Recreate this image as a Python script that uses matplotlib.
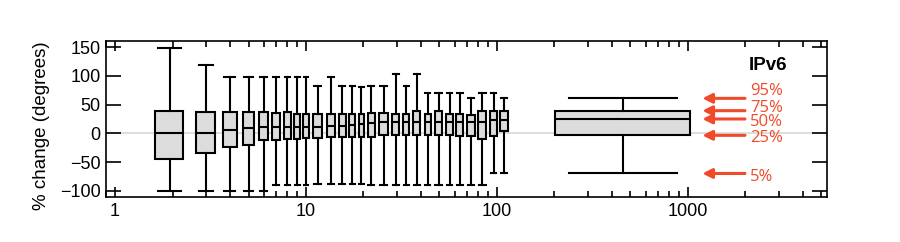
"""
Box plots of % change per bin, with the >100 bin summarised on the right (IPv6)
"""

import numpy as np
import matplotlib.pyplot as plt
from matplotlib.ticker import LogLocator, FixedLocator, NullFormatter

plt.rcParams['font.family'] = ['Liberation Sans', 'DejaVu Sans']

# Bin centres and bin widths (x, log axis)
positions = [1.95, 3, 4, 5, 6, 7, 8, 9, 10, 11.5, 13.5, 15.5, 17.5, 19.5,
             22, 25.5, 29.5, 33.5, 38, 43.5, 49.5, 56.5, 64, 73, 84, 96, 109]
bin_widths = [1, 1, 1, 1, 1, 1, 1, 1, 1, 2, 2, 2, 2, 2,
              3, 4, 4, 4, 5, 5, 7, 7, 8, 10, 12, 12, 16]

# Percentiles per bin
p5 = [-100, -100, -100, -100, -100, -90, -90, -90, -90, -89, -89, -89, -89, -89,
      -90, -90, -90, -90, -90, -90, -90, -90, -90, -90, -90, -70, -70]
q1 = [-45, -34, -24, -20, -11, -12, -10, -10, -8.5, -8.5, -7, -7, -7, -6,
      -6, -3, -3, -3, -3, -2.5, -3, -3.5, -4.5, -4, -9.5, -4, 4]
med = [0, 0, 5, 9, 11, 11, 11, 11, 11, 11, 12, 13, 15, 16,
       18, 19, 19, 19, 20, 19, 20, 19, 19, 19, 20, 23, 23]
q3 = [39, 37, 37, 37, 37, 36, 37, 34, 34, 33, 33, 33, 33, 34,
      35, 35, 34, 34, 39, 34, 39, 34, 34, 32, 39, 39, 39]
p95 = [148, 119, 99, 99, 99, 99, 99, 99, 99, 83, 99, 83, 83, 80,
       83, 83, 103, 83, 103, 71, 71, 71, 71, 61, 71, 71, 61]

# Summary box for everything above 100
big_pos = 455
big_stats = {'whislo': -70, 'q1': -3.5, 'med': 25, 'q3': 39.5, 'whishi': 61}
pct_labels = ['95%', '75%', '50%', '25%', '5%']
pct_keys = ['whishi', 'q3', 'med', 'q1', 'whislo']
label_y = [73, 45, 19, -8, -76]

RED = '#f04a2a'
BOX_GRAY = '#dcdcdc'
XLIM = (0.897, 5350)
YLIM = (-111, 161)

fig = plt.figure(figsize=(9, 2.42), dpi=100)
ax = fig.add_axes([0.1178, 0.186, 0.8011, 0.6446])
ax.set_xscale('log')
ax.set_xlim(*XLIM)
ax.set_ylim(*YLIM)

ax.axhline(0, color='#d8d8d8', lw=1.2, zorder=0)

box_style = dict(
    patch_artist=True,
    showfliers=False,
    manage_ticks=False,
    boxprops=dict(facecolor=BOX_GRAY, edgecolor='black', linewidth=1.5),
    medianprops=dict(color='black', linewidth=1.5),
    whiskerprops=dict(color='black', linewidth=1.5),
    capprops=dict(color='black', linewidth=1.5),
)

stats = []
for i in range(len(positions)):
    stats.append({'whislo': p5[i], 'q1': q1[i], 'med': med[i],
                  'q3': q3[i], 'whishi': p95[i], 'fliers': []})
widths = [0.66 * w for w in bin_widths]
ax.bxp(stats, positions=positions, widths=widths,
       capwidths=[0.8 * w for w in widths], **box_style)

# big box: symmetric in log space, so draw it on a twin axis in log10 units
ax2 = ax.twiny()
ax2.set_xlim(np.log10(XLIM[0]), np.log10(XLIM[1]))
ax2.axis('off')
big = dict(big_stats, fliers=[])
ax2.bxp([big], positions=[np.log10(big_pos)], widths=[0.705],
        capwidths=[0.565], **box_style)

# percentile arrows + labels
for lab, key, ly in zip(pct_labels, pct_keys, label_y):
    v = big_stats[key]
    ax.annotate('', xy=(1190, v), xytext=(1990, v),
                arrowprops=dict(arrowstyle='-|>', color=RED, lw=2.2,
                                mutation_scale=14, shrinkA=0, shrinkB=0))
    ax.text(2120, ly, lab, color=RED, fontsize=12, family=['Open Sans', 'DejaVu Sans'],
            ha='left', va='center')

ax.text(2080, 119, 'IPv6', fontsize=13.5, fontweight='bold', ha='left', va='center')

# ticks
ax.xaxis.set_major_locator(FixedLocator([1, 10, 100, 1000]))
ax.set_xticklabels(['1', '10', '100', '1000'])
ax.xaxis.set_minor_locator(LogLocator(base=10, subs=np.arange(2, 10)))
ax.xaxis.set_minor_formatter(NullFormatter())
ax.set_yticks([-100, -50, 0, 50, 100, 150])

ax.tick_params(axis='both', which='major', direction='in', top=True, right=True,
               labelsize=13, width=1.2, pad=4)
ax.tick_params(axis='x', which='major', length=7.5)
ax.tick_params(axis='y', which='major', length=10.5)
ax.tick_params(axis='x', which='minor', direction='in', top=True, length=4, width=1.2)

for s in ax.spines.values():
    s.set_linewidth(1.2)

ax.set_ylabel('% change (degrees)', fontsize=13.5, va='center')
ax.yaxis.set_label_coords(-0.09, 0.455)

plt.savefig('out.png', dpi=100)
